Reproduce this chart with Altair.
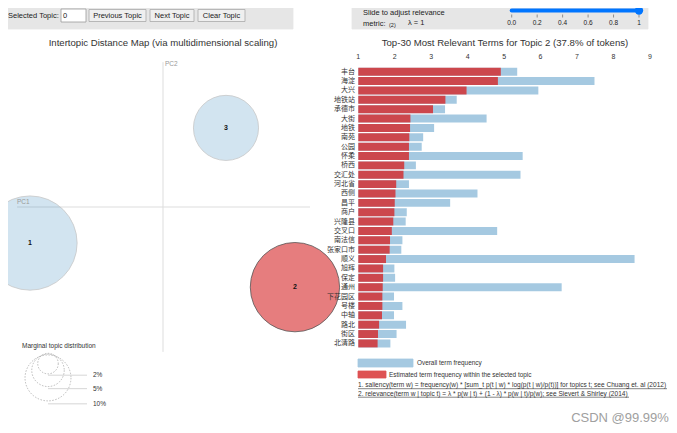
import altair as alt
import pandas as pd

# ---------------- data ----------------
terms = ["丰台", "海淀", "大兴", "地铁站", "承德市", "大街", "地铁", "南苑", "公园", "怀柔",
         "桥西", "交汇处", "河北省", "西侧", "昌平", "商户", "兴隆县", "交叉口", "南法信", "张家口市",
         "顺义", "旭辉", "保定", "通州", "下花园区", "号楼", "中轴", "路北", "街区", "北清路"]
overall_freq = [5.36, 7.48, 5.94, 3.70, 3.38, 4.52, 3.08, 2.78, 2.74, 5.51,
                2.58, 5.45, 2.39, 4.27, 3.52, 2.33, 2.30, 4.81, 2.21, 2.18,
                8.58, 1.99, 2.01, 6.58, 1.98, 2.21, 1.98, 2.31, 2.05, 1.88]
estimated_freq = [4.91, 4.83, 3.97, 3.39, 3.05, 2.43, 2.42, 2.40, 2.39, 2.39,
                  2.26, 2.24, 2.04, 2.02, 2.00, 1.99, 1.96, 1.92, 1.87, 1.86,
                  1.76, 1.68, 1.68, 1.67, 1.66, 1.66, 1.65, 1.57, 1.54, 1.53]
axis_ticks = [1, 2, 3, 4, 5, 6, 7, 8, 9]

topic_ids = [1, 2, 3]
topic_pc1 = [-0.38, 0.377, 0.18]
topic_pc2 = [-0.103, -0.229, 0.226]
topic_share = [42.1, 37.8, 20.1]
selected_topic = 2

guide_shares = [2, 5, 10]
guide_labels = ["2%", "5%", "10%"]

slider_ticks = [0.0, 0.2, 0.4, 0.6, 0.8, 1.0]
slider_labels = ["0.0", "0.2", "0.4", "0.6", "0.8", "1"]

# ---------------- styles ----------------
LAT = "Segoe UI, Liberation Sans, sans-serif"
CJK = "Microsoft YaHei, Noto Sans CJK SC, sans-serif"
TXT = "#333333"

W, H = 661, 417


def px_text(rows, **kw):
    df = pd.DataFrame(rows, columns=["t", "x", "y"])
    base = dict(font=LAT, color=TXT, baseline="middle")
    base.update(kw)
    return alt.Chart(df).mark_text(**base).encode(
        x=alt.X("x:Q", scale=None, axis=None),
        y=alt.Y("y:Q", scale=None, axis=None),
        text="t:N",
    )


def px_rects(rows, **kw):
    df = pd.DataFrame(rows, columns=["x", "x2", "y", "y2", "fill", "stroke"])
    return alt.Chart(df).mark_rect(strokeWidth=0.8, **kw).encode(
        x=alt.X("x:Q", scale=None, axis=None), x2="x2:Q",
        y=alt.Y("y:Q", scale=None, axis=None), y2="y2:Q",
        fill=alt.Fill("fill:N", scale=None),
        stroke=alt.Stroke("stroke:N", scale=None),
    )


# ---------------- top control strips ----------------
ui_boxes = px_rects([
    (0, 285, 0, 21, "#e6e6e6", "#e6e6e6"),
    (344, 640, 0, 21, "#e6e6e6", "#e6e6e6"),
    (53, 78, 1, 14, "#ffffff", "#999999"),
    (81, 138, 1.5, 13.5, "#efefef", "#a9a9a9"),
    (142, 186, 1.5, 13.5, "#efefef", "#a9a9a9"),
    (190, 237, 1.5, 13.5, "#efefef", "#a9a9a9"),
])
ui_left_text = px_text([
    ("Selected Topic:", 0, 7.5), ("0", 55, 7.5),
    ("Slide to adjust relevance", 355, 5), ("metric:", 355, 16),
    ("λ = 1", 400, 14.5),
], align="left", fontSize=7.5, color="#222222")
ui_small = px_text([("(2)", 381, 16.5)], align="left", fontSize=5.5, color="#222222")
ui_center_text = px_text([
    ("Previous Topic", 109.5, 7.5), ("Next Topic", 164, 7.5), ("Clear Topic", 213.5, 7.5),
], align="center", fontSize=7.5, color="#222222")

slider_scale = alt.Scale(domain=[0, 1], range=[503.7, 631])
slider_df = pd.DataFrame({"v": slider_ticks, "lab": slider_labels})
slider_line = alt.Chart(pd.DataFrame({"a": [0.0], "b": [1.0]})).mark_rule(
    color="#0075ff", strokeWidth=4, strokeCap="round").encode(
    x=alt.X("a:Q", scale=slider_scale, axis=None), x2="b:Q", y=alt.value(2.5))
slider_knob = alt.Chart(pd.DataFrame({"a": [1.0]})).mark_point(
    shape="circle", filled=True, color="#0075ff", size=70, opacity=1).encode(
    x=alt.X("a:Q", scale=slider_scale, axis=None), y=alt.value(2.5))
slider_tick = alt.Chart(slider_df).mark_rule(color="#777777", strokeWidth=0.8).encode(
    x=alt.X("v:Q", scale=slider_scale, axis=None), y=alt.value(6.5), y2=alt.value(9.5))
slider_lab = alt.Chart(slider_df).mark_text(font=LAT, fontSize=6.5, color="#222222",
                                            baseline="middle").encode(
    x=alt.X("v:Q", scale=slider_scale, axis=None), y=alt.value(14.5), text="lab:N")
slider = alt.layer(slider_line, slider_tick, slider_lab, slider_knob)

# ---------------- titles ----------------
titles = px_text([
    ("Intertopic Distance Map (via multidimensional scaling)", 155, 35),
    (f"Top-30 Most Relevant Terms for Topic {selected_topic} "
     f"({topic_share[topic_ids.index(selected_topic)]}% of tokens)", 497, 35),
], align="center", fontSize=9.6)

# ---------------- bar chart ----------------
bars_df = pd.DataFrame({"term": terms, "overall": overall_freq,
                        "estimated": estimated_freq, "base": 1})
xs = alt.Scale(domain=[1, 9.5], range=[350.3, 660.1])
ys = alt.Scale(domain=terms, range=[59.0, 340.1], paddingInner=0.15, paddingOuter=0.075)

blue = alt.Chart(bars_df).mark_bar(color="#1f77b4", opacity=0.4).encode(
    x=alt.X("overall:Q", scale=xs, axis=None), x2="base:Q",
    y=alt.Y("term:N", scale=ys, axis=None))
red = alt.Chart(bars_df).mark_bar(color="#d62728", opacity=0.8).encode(
    x=alt.X("estimated:Q", scale=xs, axis=None), x2="base:Q",
    y=alt.Y("term:N", scale=ys, axis=None))
term_labels = alt.Chart(bars_df).mark_text(
    align="right", baseline="middle", font=CJK, fontSize=7, color=TXT).encode(
    x=alt.value(347), y=alt.Y("term:N", scale=ys, axis=None), text="term:N")
tick_labels = alt.Chart(pd.DataFrame({"t": axis_ticks})).mark_text(
    font=LAT, fontSize=7, color=TXT, baseline="middle").encode(
    x=alt.X("t:Q", scale=xs, axis=None), y=alt.value(49), text="t:Q")
bar_group = alt.layer(blue, red, term_labels, tick_labels)

# bar legend + footnotes
bar_legend = px_rects([
    (350, 405, 351, 359, "#a5c9e1", "#a5c9e1"),
    (350, 378, 363, 370, "#de5253", "#de5253"),
])
bar_legend_text = px_text([
    ("Overall term frequency", 409, 355),
    ("Estimated term frequency within the selected topic", 381, 366.5),
], align="left", fontSize=6.4)
foot_text = px_text([
    ("1. saliency(term w) = frequency(w) * [sum_t p(t | w) * log(p(t | w)/p(t))] for topics t; see Chuang et. al (2012)", 350, 377),
    ("2. relevance(term w | topic t) = λ * p(w | t) + (1 - λ) * p(w | t)/p(w); see Sievert & Shirley (2014)", 350, 385.5),
], align="left", fontSize=6.55)
foot_lines = alt.Chart(pd.DataFrame({"x": [350, 350], "x2": [659, 621], "y": [380.7, 389.2]})).mark_rule(
    color="#333333", strokeWidth=0.6).encode(
    x=alt.X("x:Q", scale=None, axis=None), x2="x2:Q", y=alt.Y("y:Q", scale=None, axis=None))

# ---------------- intertopic map ----------------
topics_df = pd.DataFrame({"topic": topic_ids, "pc1": topic_pc1, "pc2": topic_pc2,
                          "share": topic_share})
xsc = alt.Scale(domain=[-0.4, 0.4], range=[15, 295])
ysc = alt.Scale(domain=[-0.4, 0.4], range=[339, 59])
size_sc = alt.Scale(domain=[0, 100], range=[0, 21100])

hline = alt.Chart(pd.DataFrame({"x": [-0.417], "x2": [0.42], "y": [0.0]})).mark_rule(
    color="#dddddd", strokeWidth=1).encode(
    x=alt.X("x:Q", scale=xsc, axis=None), x2="x2:Q", y=alt.Y("y:Q", scale=ysc, axis=None))
vline = alt.Chart(pd.DataFrame({"x": [0.0], "y": [-0.414], "y2": [0.414]})).mark_rule(
    color="#dddddd", strokeWidth=1).encode(
    x=alt.X("x:Q", scale=xsc, axis=None), y=alt.Y("y:Q", scale=ysc, axis=None), y2="y2:Q")
is_sel = alt.datum.topic == selected_topic
circles = alt.Chart(topics_df).mark_circle(opacity=1, strokeWidth=0.8).encode(
    x=alt.X("pc1:Q", scale=xsc, axis=None),
    y=alt.Y("pc2:Q", scale=ysc, axis=None),
    size=alt.Size("share:Q", scale=size_sc, legend=None),
    color=alt.condition(is_sel, alt.value("#d62728"), alt.value("#1f77b4")),
    fillOpacity=alt.condition(is_sel, alt.value(0.6), alt.value(0.2)),
    stroke=alt.condition(is_sel, alt.value("#555555"), alt.value("#c8c8c8")),
)
topic_text = alt.Chart(topics_df).mark_text(
    font=LAT, fontSize=7, fontWeight="bold", color="#111111", baseline="middle").encode(
    x=alt.X("pc1:Q", scale=xsc, axis=None), y=alt.Y("pc2:Q", scale=ysc, axis=None),
    text="topic:N")
map_group = alt.layer(hline, vline, circles, topic_text)

pc_text = px_text([("PC1", 9, 194), ("PC2", 157, 56)], align="left",
                  fontSize=6.5, color="#999999")

# marginal topic distribution guide
guide_df = pd.DataFrame({"share": guide_shares, "label": guide_labels})
guide_base = alt.Chart(guide_df).transform_calculate(
    r="sqrt(datum.share * 211 / PI)"
).transform_calculate(cy="344 + datum.r", yb="344 + 2 * datum.r")
guide_circles = guide_base.mark_point(
    shape="circle", filled=False, color="#aaaaaa", strokeDash=[1.5, 1.5],
    strokeWidth=0.8, opacity=1).encode(
    x=alt.value(40), y=alt.Y("cy:Q", scale=None, axis=None),
    size=alt.Size("share:Q", scale=size_sc, legend=None))
guide_lines = guide_base.mark_rule(color="#cccccc", strokeWidth=0.8).encode(
    x=alt.value(40), x2=alt.value(79), y=alt.Y("yb:Q", scale=None, axis=None))
guide_labels_l = guide_base.mark_text(font=LAT, fontSize=6.5, color=TXT, align="left",
                                      baseline="middle").encode(
    x=alt.value(85), y=alt.Y("yb:Q", scale=None, axis=None), text="label:N")
guide_title = px_text([("Marginal topic distribution", 14, 338)], align="left", fontSize=6.5)
guide = alt.layer(guide_circles, guide_lines, guide_labels_l)

watermark = px_text([("CSDN @99.99%", 612, 410)], align="center", fontSize=13,
                    color="#a0a0a0")

chart = alt.layer(
    ui_boxes, ui_left_text, ui_small, ui_center_text, slider,
    titles, map_group, pc_text, guide, guide_title,
    bar_group, bar_legend, bar_legend_text, foot_text, foot_lines, watermark,
).resolve_scale(
    x="independent", y="independent", size="independent"
).properties(
    width=W, height=H, autosize=alt.AutoSizeParams(type="none"), padding=0
).configure_view(stroke=None)

chart.save("out.html", embed_options={"renderer": "svg", "actions": False})
